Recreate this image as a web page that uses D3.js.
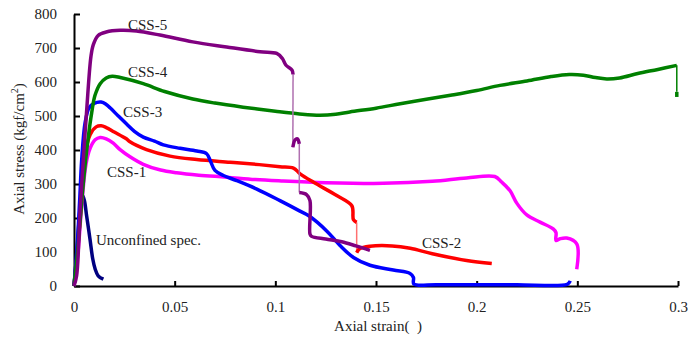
<!DOCTYPE html>
<html>
<head>
<meta charset="utf-8">
<script src="https://cdn.jsdelivr.net/npm/d3@7"></script>
<style>
  html, body { margin: 0; padding: 0; background: #fff; }
  svg { display: block; }
  text { font-family: "Liberation Serif", "Times New Roman", serif; fill: #222; }
</style>
</head>
<body>
<svg id="chart" width="689" height="338"></svg>
<script>
// ---- data (strain, stress kgf/cm2); null = break joined by a thin line ----
const xTicks = [0, 0.05, 0.1, 0.15, 0.2, 0.25, 0.3];
const xTickLabels = ["0", "0.05", "0.1", "0.15", "0.2", "0.25", "0.3"];
const yTicks = [0, 100, 200, 300, 400, 500, 600, 700, 800];

const unconfined = [[0,0],[0.0015,105],[0.0028,215],[0.0036,258],[0.0043,266],[0.0052,250],[0.0063,205],[0.0079,140],[0.0093,80],[0.0105,50],[0.012,30],[0.0146,20]];
const css1 = [[0,0],[0.002,100],[0.004,250],[0.006,360],[0.008,405],[0.0105,430],[0.013,437],[0.016,433],[0.0195,420],[0.0229,401],[0.0278,380],[0.0344,358],[0.043,341],[0.051,333],[0.062,326],[0.0758,320],[0.09,313],[0.103,309],[0.125,304],[0.1537,302],[0.178,308],[0.195,318],[0.209,322],[0.2125,305],[0.2166,280],[0.22,243],[0.2249,209],[0.2315,188],[0.238,168],[0.2394,157],[0.2394,134],[0.2414,139],[0.2447,141],[0.2497,124],[0.2497,49]];
const css2 = [[0,0],[0.0015,90],[0.0038,255],[0.0055,385],[0.008,445],[0.011,468],[0.0135,471],[0.016,466],[0.02,453],[0.026,433],[0.0278,424],[0.036,401],[0.0477,382],[0.061,372],[0.0775,364],[0.092,357],[0.1023,351],[0.109,347],[0.1123,330],[0.119,305],[0.1305,266],[0.138,236],[0.1388,195],[0.1404,187],null,[0.1404,98],[0.142,110],[0.147,117],[0.158,118],[0.167,111],[0.178,95],[0.195,75],[0.2075,66]];
const css3 = [[0,0],[0.0015,110],[0.0028,250],[0.0038,369],[0.0055,480],[0.0075,524],[0.01,537],[0.0135,541],[0.016,534],[0.0179,524],[0.022,500],[0.026,477],[0.03,455],[0.0344,438],[0.04,426],[0.0444,415],[0.0527,405],[0.061,397],[0.0659,389],[0.0676,370],[0.07,340],[0.0742,325],[0.0808,310],[0.0908,285],[0.1023,251],[0.112,221],[0.117,205],[0.1255,162],[0.132,120],[0.1388,84],[0.147,61],[0.1586,47],[0.1669,37],[0.1686,25],[0.1688,6],[0.18,4],[0.2,4],[0.22,4],[0.245,5],[0.2465,15]];
const css4 = [[0,0],[0.0021,124],[0.0046,301],[0.0071,438],[0.0088,510],[0.0104,560],[0.013,595],[0.016,612],[0.019,617],[0.023,613],[0.0344,595],[0.045,572],[0.059,550],[0.07,538],[0.084,526],[0.1,514],[0.112,506],[0.122,502],[0.13,505],[0.137,512],[0.15,523],[0.162,536],[0.175,549],[0.187,561],[0.2,575],[0.2116,590],[0.225,603],[0.237,616],[0.246,622],[0.253,620],[0.259,613],[0.2646,609],[0.271,612],[0.28,625],[0.29,637],[0.2994,649],null,[0.2994,571],[0.2994,556]];
const css5 = [[0,0],[0.0013,30],[0.003,220],[0.0046,370],[0.0063,517],[0.0084,674],[0.0096,710],[0.012,737],[0.016,747],[0.0229,752],[0.031,750],[0.0427,738],[0.059,718],[0.0758,703],[0.0924,689],[0.1007,684],[0.1035,669],[0.1052,650],[0.1083,635],[0.1088,622],null,[0.1087,408],[0.1098,430],[0.111,433],[0.1119,418],null,[0.1119,275],[0.1155,269],[0.1172,251],[0.1172,153],[0.118,146],[0.125,138],[0.133,130],[0.14,118],[0.147,105]];

const seriesNames = ["CSS-1", "CSS-2", "CSS-3", "CSS-4", "CSS-5", "Unconfined spec."];
const seriesColors = ["#ff00ff", "#ff0000", "#0000ff", "#008000", "#800080", "#000080"];
const thinColors = ["#ff80ff", "#ff7070", "#6060ff", "#008000", "#b070b0", "#000080"];

// ---- layout ----
const svg = d3.select("#chart");
const x = d3.scaleLinear().domain([0, 0.3]).range([74, 678]);
const y = d3.scaleLinear().domain([0, 800]).range([286, 14]);

// axes
const gx = svg.append("g").attr("transform", "translate(0,286)")
  .call(d3.axisBottom(x).tickValues(xTicks).tickFormat((d, i) => xTickLabels[i])
    .tickSizeInner(-5).tickSizeOuter(0).tickPadding(15));
const gy = svg.append("g").attr("transform", "translate(74,0)")
  .call(d3.axisLeft(y).tickValues(yTicks).tickFormat(d3.format("d"))
    .tickSizeInner(-6).tickSizeOuter(0).tickPadding(17));
[gx, gy].forEach(g => {
  g.select(".domain").attr("stroke", "#000").attr("stroke-width", 2);
  g.selectAll(".tick line").attr("stroke", "#000").attr("stroke-width", 2);
  g.selectAll(".tick text").style("font-family", "'Liberation Serif', serif")
    .style("font-size", "15px").attr("fill", "#222");
});

// curves
const line = d3.line().x(d => x(d[0])).y(d => y(d[1])).curve(d3.curveCatmullRom.alpha(0.5));
const allSeries = [css1, css2, css3, css4, css5, unconfined];
const drawOrder = [5, 0, 1, 2, 3, 4];
drawOrder.forEach(si => {
  const data = allSeries[si];
  const segs = [[]];
  data.forEach(p => { if (p === null) segs.push([]); else segs[segs.length - 1].push(p); });
  for (let k = 1; k < segs.length; k++) {
    const a = segs[k - 1][segs[k - 1].length - 1], b = segs[k][0];
    svg.append("path").attr("d", d3.line().x(d => x(d[0])).y(d => y(d[1]))([a, b]))
      .attr("fill", "none").attr("stroke", thinColors[si]).attr("stroke-width", 1.5);
  }
  segs.forEach(s => {
    svg.append("path").attr("d", line(s))
      .attr("fill", "none").attr("stroke", seriesColors[si])
      .attr("stroke-width", 3.5).attr("stroke-linejoin", "round").attr("stroke-linecap", "butt");
  });
});

// curve labels
const labelPos = [[107, 177], [422, 248], [123, 117], [128, 77], [128, 30], [96, 245]];
seriesNames.forEach((n, i) => {
  svg.append("text").attr("x", labelPos[i][0]).attr("y", labelPos[i][1])
    .style("font-size", "15px").text(n);
});

// axis titles
svg.append("text").attr("x", 378).attr("y", 331).attr("text-anchor", "middle")
  .style("font-size", "15px").text("Axial strain(\u00a0\u00a0)");
const yt = svg.append("text").attr("transform", "translate(24,149) rotate(-90)")
  .attr("text-anchor", "middle").style("font-size", "15px");
yt.append("tspan").text("Axial stress (kgf/cm");
yt.append("tspan").attr("dy", -6).style("font-size", "10px").text("2");
yt.append("tspan").attr("dy", 6).text(")");
</script>
</body>
</html>
